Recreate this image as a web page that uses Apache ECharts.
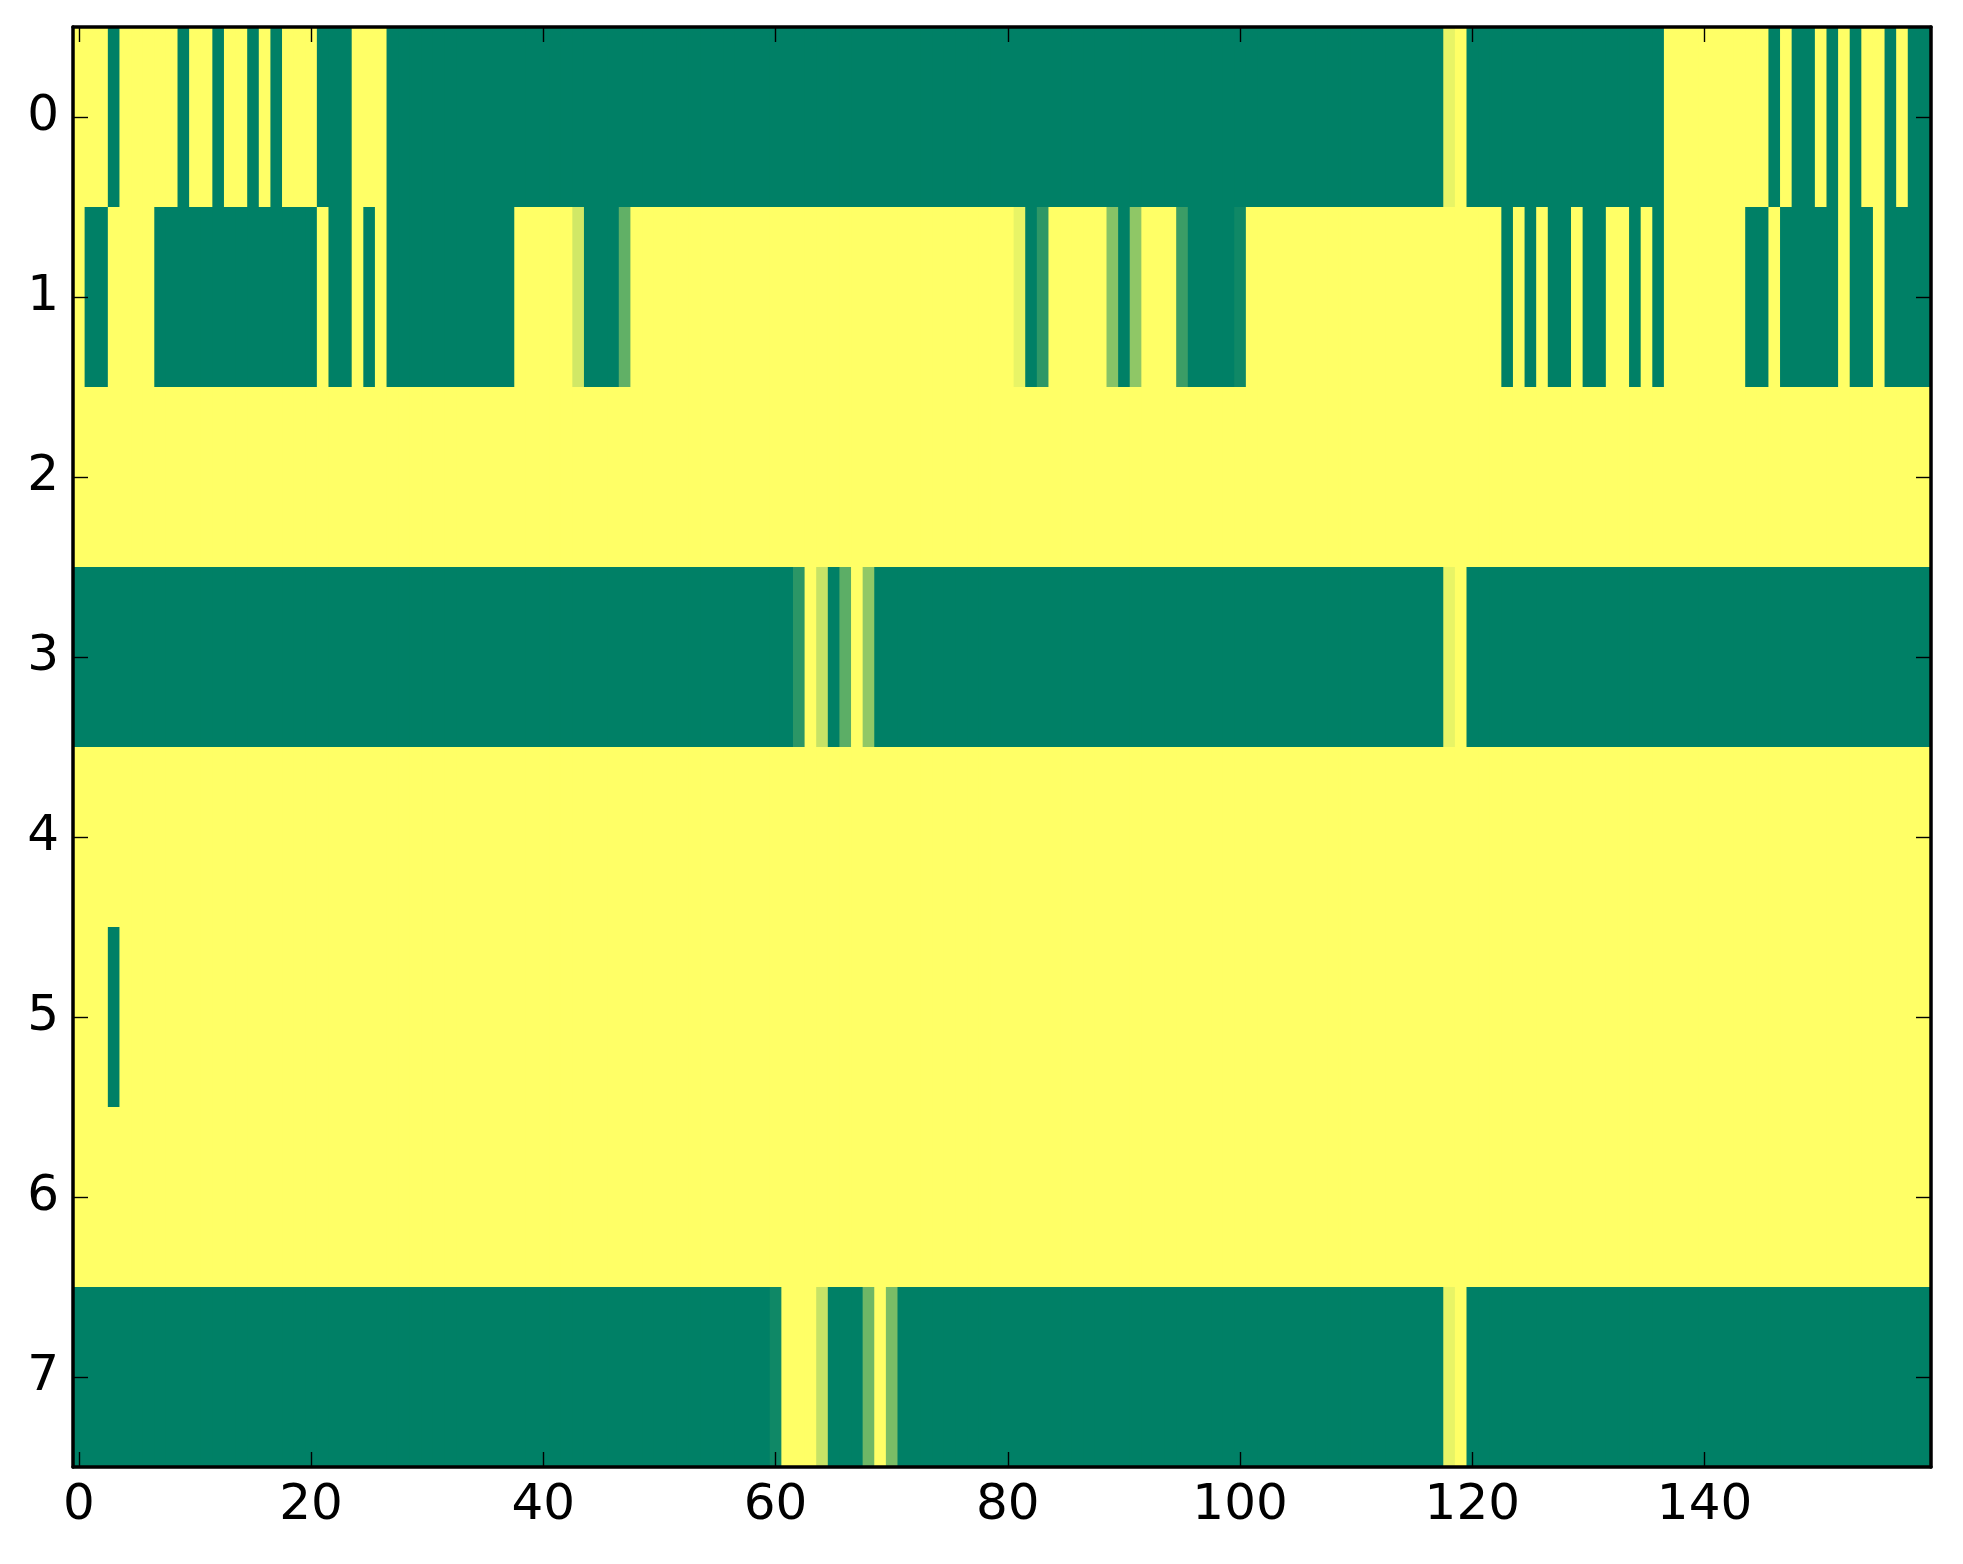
<!DOCTYPE html>
<html>
<head>
<meta charset="utf-8">
<script src="https://cdn.jsdelivr.net/npm/echarts@6/dist/echarts.min.js"></script>
<style>
html,body{margin:0;padding:0;background:#fff;}
#chart{width:1963px;height:1564px;}
</style>
</head>
<body>
<div id="chart"></div>
<script>
// Column indices 0..159 and row indices 0..7
var columns = [];
for (var c = 0; c < 160; c++) columns.push(String(c));
var rowLabels = ['0','1','2','3','4','5','6','7'];
var xTickLabels = ['0','20','40','60','80','100','120','140'];

// Cell values (0 = dark green, 1 = yellow), 20 per line
var row0 = [
1,1,1,0,1,1,1,1,1,0,1,1,0,1,1,0,1,0,1,1,
1,0,0,0,1,1,1,0,0,0,0,0,0,0,0,0,0,0,0,0,
0,0,0,0,0,0,0,0,0,0,0,0,0,0,0,0,0,0,0,0,
0,0,0,0,0,0,0,0,0,0,0,0,0,0,0,0,0,0,0,0,
0,0,0,0,0,0,0,0,0,0,0,0,0,0,0,0,0,0,0,0,
0,0,0,0,0,0,0,0,0,0,0,0,0,0,0,0,0,0,0.91,1,
0,0,0,0,0,0,0,0,0,0,0,0,0,0,0,0,0,1,1,1,
1,1,1,1,1,1,0,1,0,0,1,0,1,0,1,1,0,1,0,0
];
var row1 = [
1,0,0,1,1,1,1,0,0,0,0,0,0,0,0,0,0,0,0,0,
0,1,0,0,1,0,1,0,0,0,0,0,0,0,0,0,0,0,1,1,
1,1,1,0.82,0,0,0,0.38,1,1,1,1,1,1,1,1,1,1,1,1,
1,1,1,1,1,1,1,1,1,1,1,1,1,1,1,1,1,1,1,1,
1,0.91,0,0.18,1,1,1,1,1,0.53,0,0.56,1,1,1,0.23,0,0,0,0,
0.06,1,1,1,1,1,1,1,1,1,1,1,1,1,1,1,1,1,1,1,
1,1,1,0,1,0,1,0,0,1,0,0,1,1,0,1,0,1,1,1,
1,1,1,1,0,0,1,0,0,0,0,0,1,0,0,1,0,0,0,0
];
var row2 = [
1,1,1,1,1,1,1,1,1,1,1,1,1,1,1,1,1,1,1,1,
1,1,1,1,1,1,1,1,1,1,1,1,1,1,1,1,1,1,1,1,
1,1,1,1,1,1,1,1,1,1,1,1,1,1,1,1,1,1,1,1,
1,1,1,1,1,1,1,1,1,1,1,1,1,1,1,1,1,1,1,1,
1,1,1,1,1,1,1,1,1,1,1,1,1,1,1,1,1,1,1,1,
1,1,1,1,1,1,1,1,1,1,1,1,1,1,1,1,1,1,1,1,
1,1,1,1,1,1,1,1,1,1,1,1,1,1,1,1,1,1,1,1,
1,1,1,1,1,1,1,1,1,1,1,1,1,1,1,1,1,1,1,1
];
var row3 = [
0,0,0,0,0,0,0,0,0,0,0,0,0,0,0,0,0,0,0,0,
0,0,0,0,0,0,0,0,0,0,0,0,0,0,0,0,0,0,0,0,
0,0,0,0,0,0,0,0,0,0,0,0,0,0,0,0,0,0,0,0,
0,0,0.17,1,0.78,0,0.36,1,0.57,0,0,0,0,0,0,0,0,0,0,0,
0,0,0,0,0,0,0,0,0,0,0,0,0,0,0,0,0,0,0,0,
0,0,0,0,0,0,0,0,0,0,0,0,0,0,0,0,0,0,0.91,1,
0,0,0,0,0,0,0,0,0,0,0,0,0,0,0,0,0,0,0,0,
0,0,0,0,0,0,0,0,0,0,0,0,0,0,0,0,0,0,0,0
];
var row4 = [
1,1,1,1,1,1,1,1,1,1,1,1,1,1,1,1,1,1,1,1,
1,1,1,1,1,1,1,1,1,1,1,1,1,1,1,1,1,1,1,1,
1,1,1,1,1,1,1,1,1,1,1,1,1,1,1,1,1,1,1,1,
1,1,1,1,1,1,1,1,1,1,1,1,1,1,1,1,1,1,1,1,
1,1,1,1,1,1,1,1,1,1,1,1,1,1,1,1,1,1,1,1,
1,1,1,1,1,1,1,1,1,1,1,1,1,1,1,1,1,1,1,1,
1,1,1,1,1,1,1,1,1,1,1,1,1,1,1,1,1,1,1,1,
1,1,1,1,1,1,1,1,1,1,1,1,1,1,1,1,1,1,1,1
];
var row5 = [
1,1,1,0,1,1,1,1,1,1,1,1,1,1,1,1,1,1,1,1,
1,1,1,1,1,1,1,1,1,1,1,1,1,1,1,1,1,1,1,1,
1,1,1,1,1,1,1,1,1,1,1,1,1,1,1,1,1,1,1,1,
1,1,1,1,1,1,1,1,1,1,1,1,1,1,1,1,1,1,1,1,
1,1,1,1,1,1,1,1,1,1,1,1,1,1,1,1,1,1,1,1,
1,1,1,1,1,1,1,1,1,1,1,1,1,1,1,1,1,1,1,1,
1,1,1,1,1,1,1,1,1,1,1,1,1,1,1,1,1,1,1,1,
1,1,1,1,1,1,1,1,1,1,1,1,1,1,1,1,1,1,1,1
];
var row6 = [
1,1,1,1,1,1,1,1,1,1,1,1,1,1,1,1,1,1,1,1,
1,1,1,1,1,1,1,1,1,1,1,1,1,1,1,1,1,1,1,1,
1,1,1,1,1,1,1,1,1,1,1,1,1,1,1,1,1,1,1,1,
1,1,1,1,1,1,1,1,1,1,1,1,1,1,1,1,1,1,1,1,
1,1,1,1,1,1,1,1,1,1,1,1,1,1,1,1,1,1,1,1,
1,1,1,1,1,1,1,1,1,1,1,1,1,1,1,1,1,1,1,1,
1,1,1,1,1,1,1,1,1,1,1,1,1,1,1,1,1,1,1,1,
1,1,1,1,1,1,1,1,1,1,1,1,1,1,1,1,1,1,1,1
];
var row7 = [
0,0,0,0,0,0,0,0,0,0,0,0,0,0,0,0,0,0,0,0,
0,0,0,0,0,0,0,0,0,0,0,0,0,0,0,0,0,0,0,0,
0,0,0,0,0,0,0,0,0,0,0,0,0,0,0,0,0,0,0,0,
0.06,1,1,1,0.78,0,0,0,0.43,1,0.48,0,0,0,0,0,0,0,0,0,
0,0,0,0,0,0,0,0,0,0,0,0,0,0,0,0,0,0,0,0,
0,0,0,0,0,0,0,0,0,0,0,0,0,0,0,0,0,0,0.91,1,
0,0,0,0,0,0,0,0,0,0,0,0,0,0,0,0,0,0,0,0,
0,0,0,0,0,0,0,0,0,0,0,0,0,0,0,0,0,0,0,0
];
var rows = [row0, row1, row2, row3, row4, row5, row6, row7];

var cells = [];
rows.forEach(function (r, y) {
  r.forEach(function (v, x) { cells.push([x, y, v]); });
});

var FONT = 'DejaVu Sans';
var labelSet = {};
xTickLabels.forEach(function (t) { labelSet[t] = true; });
function xShow(i, name) { return !!labelSet[name]; }

var axisLineStyle = { show: true, onZero: false, lineStyle: { color: '#000', width: 3.5 } };
var tickStyle = { color: '#000', width: 1.4 };

function renderCell(params, api) {
  var center = api.coord([api.value(0), api.value(1)]);
  var size = api.size([1, 1]);
  var pad = 1.5; // overlap into the next cell so no anti-aliasing seams show
  return {
    type: 'rect',
    shape: {
      x: center[0] - size[0] / 2,
      y: center[1] - size[1] / 2,
      width: size[0] + pad,
      height: size[1] + pad
    },
    style: { fill: api.visual('color'), stroke: null }
  };
}

var chart = echarts.init(document.getElementById('chart'), null, { renderer: 'canvas' });
chart.setOption({
  backgroundColor: '#ffffff',
  animation: false,
  grid: { left: 73, right: 32, top: 27, bottom: 97, containLabel: false },
  visualMap: {
    show: false, type: 'continuous', min: 0, max: 1, dimension: 2,
    inRange: { color: ['#008066', '#ffff66'] }
  },
  xAxis: [
    {
      type: 'category', data: columns, position: 'bottom', z: 5,
      axisLine: axisLineStyle,
      axisTick: { show: true, inside: true, length: 15, alignWithLabel: true, interval: xShow, lineStyle: tickStyle },
      axisLabel: { show: true, interval: xShow, margin: 14, color: '#000', fontFamily: FONT, fontSize: 50 },
      splitLine: { show: false }
    },
    {
      type: 'category', data: columns, position: 'top', z: 5,
      axisLine: axisLineStyle,
      axisTick: { show: true, inside: true, length: 15, alignWithLabel: true, interval: xShow, lineStyle: tickStyle },
      axisLabel: { show: false },
      splitLine: { show: false }
    }
  ],
  yAxis: [
    {
      type: 'category', data: rowLabels, inverse: true, position: 'left', z: 5,
      axisLine: axisLineStyle,
      axisTick: { show: true, inside: true, length: 15, alignWithLabel: true, interval: 0, lineStyle: tickStyle },
      axisLabel: { show: true, interval: 0, margin: 14, color: '#000', fontFamily: FONT, fontSize: 50 },
      splitLine: { show: false }
    },
    {
      type: 'category', data: rowLabels, inverse: true, position: 'right', z: 5,
      axisLine: axisLineStyle,
      axisTick: { show: true, inside: true, length: 15, alignWithLabel: true, interval: 0, lineStyle: tickStyle },
      axisLabel: { show: false },
      splitLine: { show: false }
    }
  ],
  series: [{
    type: 'custom',
    xAxisIndex: 0, yAxisIndex: 0,
    data: cells,
    encode: { x: 0, y: 1 },
    renderItem: renderCell,
    clip: true,
    progressive: 0,
    silent: true
  }]
});
</script>
</body>
</html>
